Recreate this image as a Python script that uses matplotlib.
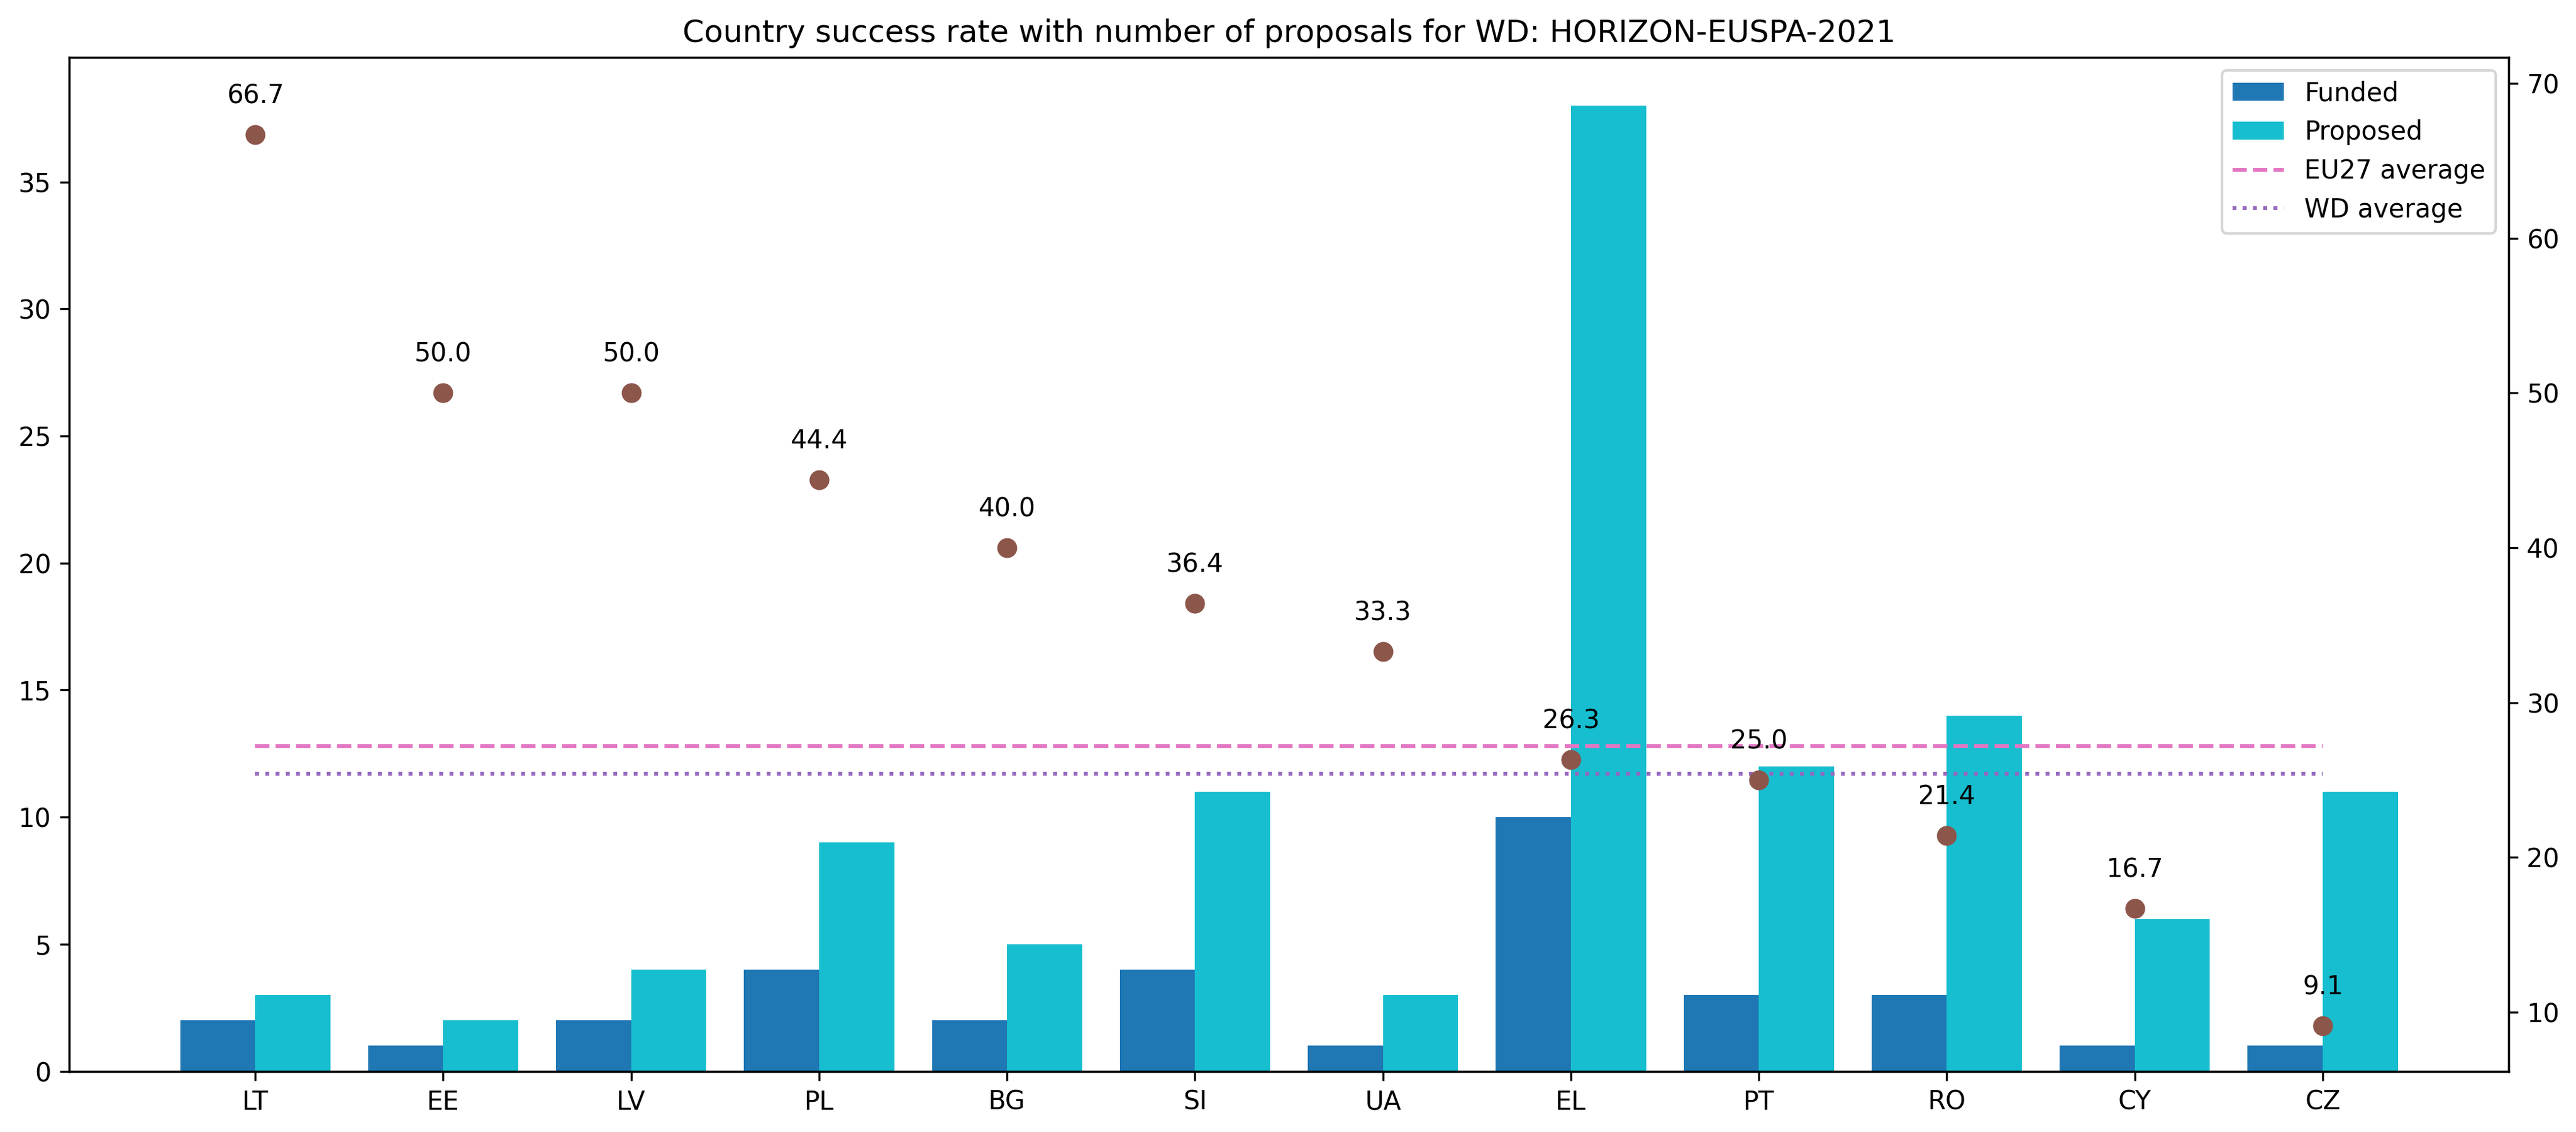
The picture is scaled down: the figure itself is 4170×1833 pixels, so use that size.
import numpy as np
import matplotlib
matplotlib.use("Agg")
import matplotlib.pyplot as plt

countries = ["LT", "EE", "LV", "PL", "BG", "SI", "UA", "EL", "PT", "RO", "CY", "CZ"]
funded = [2, 1, 2, 4, 2, 4, 1, 10, 3, 3, 1, 1]
proposed = [3, 2, 4, 9, 5, 11, 3, 38, 12, 14, 6, 11]
success_rate = [66.7, 50.0, 50.0, 44.4, 40.0, 36.4, 33.3, 26.3, 25.0, 21.4, 16.7, 9.1]
eu27_average = 27.2
wd_average = 25.4

fig = plt.figure(figsize=(13.9, 6.11), dpi=300)
ax = fig.add_axes([0.02686, 0.0537, 0.9739 - 0.02686, 0.9493 - 0.0537])

x = np.arange(len(countries))
width = 0.4
b1 = ax.bar(x - width / 2, funded, width, color="#1f77b4", label="Funded")
b2 = ax.bar(x + width / 2, proposed, width, color="#17becf", label="Proposed")
ax.set_xticks(x)
ax.set_xticklabels(countries)
ax.set_title("Country success rate with number of proposals for WD: HORIZON-EUSPA-2021")

ax2 = ax.twinx()
ax2.scatter(x, success_rate, color="#8c564b", s=45, zorder=3)
for xi, r in zip(x, success_rate):
    ax2.annotate(f"{r:.1f}", (xi, r), xytext=(0, 10), textcoords="offset points",
                 ha="center", va="bottom", fontsize=10)
l1, = ax2.plot([x[0], x[-1]], [eu27_average, eu27_average], color="#e377c2",
               linestyle="--", linewidth=1.5, label="EU27 average")
l2, = ax2.plot([x[0], x[-1]], [wd_average, wd_average], color="#9467bd",
               linestyle=":", linewidth=1.5, label="WD average")
ax2.set_ylim(6.18, 71.69)

ax2.legend(handles=[b1, b2, l1, l2], loc="upper right")

fig.savefig("out.png", dpi=300)
